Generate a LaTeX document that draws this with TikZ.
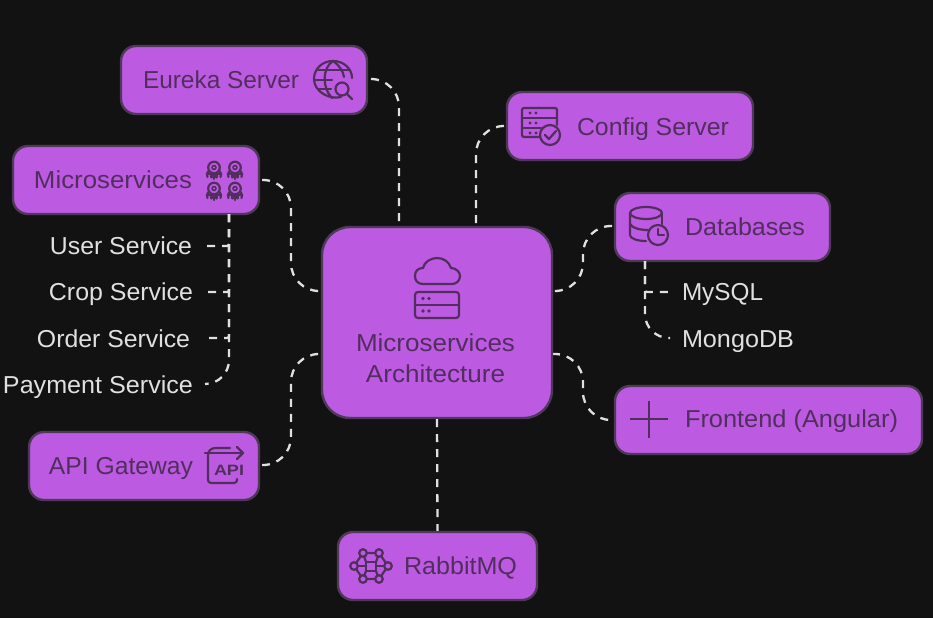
\documentclass[tikz,border=0pt]{standalone}
\usepackage{fontspec}
\usepackage{graphicx}
\setmainfont{Liberation Sans}
\definecolor{bg}{HTML}{121212}
\definecolor{boxfill}{HTML}{BC5AE2}
\definecolor{boxline}{HTML}{4E3A58}
\definecolor{ink}{HTML}{522E5E}
\definecolor{pale}{HTML}{E0E0E0}
\newcommand{\fitw}[2]{\resizebox{#1pt}{\height}{#2}}
\newcommand{\robot}[2]{%
  \draw[icon] (#1,#2-2.5) circle (5.8);
  \fill[ink] (#1,#2-2.5) circle (2.8);
  \fill[boxfill] (#1,#2-2.5) circle (1.2);
  \draw[icon] (#1-5.5,#2+1) .. controls (#1-7.5,#2+3) and (#1-7.5,#2+5) .. (#1-6.5,#2+7);
  \draw[icon] (#1+5.5,#2+1) .. controls (#1+7.5,#2+3) and (#1+7.5,#2+5) .. (#1+6.5,#2+7);
  \draw[icon] (#1-6,#2+4) -- (#1-2.5,#2+4) -- (#1-2.5,#2+7.5);
  \draw[icon] (#1+6,#2+4) -- (#1+2.5,#2+4) -- (#1+2.5,#2+7.5);
  \draw[icon] (#1,#2+4) -- (#1,#2+9);
}
\tikzset{
  x=1pt,y=-1pt,
  box/.style={draw=boxline,line width=2.4pt,fill=boxfill,rounded corners=15pt,inner sep=0pt,minimum height=68pt},
  hub/.style={box,rounded corners=28pt,minimum width=230pt,minimum height=191pt},
  inside/.style={text=ink,font=\fontsize{24.5}{28}\selectfont,anchor=base,inner sep=0pt},
  outside/.style={text=pale,font=\fontsize{24.5}{28}\selectfont,anchor=base,inner sep=0pt},
  link/.style={draw=pale,line width=2.3pt,dash pattern=on 8pt off 7pt,rounded corners=28pt},
  sublink/.style={link,rounded corners=2pt},
  icon/.style={draw=ink,line width=2.2pt,line cap=round,line join=round},
}
\begin{document}
\begin{tikzpicture}
\useasboundingbox (0,0) rectangle (933,618);
\fill[bg] (0,0) rectangle (933,618);

% connectors
\coordinate (euS) at (371,79);
\coordinate (cfS) at (504,126);
\coordinate (miS) at (262,180);
\coordinate (apS) at (262,465);
\coordinate (dbS) at (612,226);
\coordinate (frS) at (612,420);
\coordinate (hubT1) at (399,227);
\coordinate (hubT2) at (476,227);
\coordinate (hubL1) at (322,291);
\coordinate (hubL2) at (322,354);
\coordinate (hubR1) at (552,291);
\coordinate (hubR2) at (552,354);

\draw[link] (euS) -- (399,79) -- (hubT1);
\draw[link] (cfS) -- (476,126) -- (hubT2);
\draw[link] (miS) -- (291,180) -- (291,291) -- (hubL1);
\draw[link] (apS) -- (291,465) -- (291,354) -- (hubL2);
\draw[link] (dbS) -- (583,226) -- (583,291) -- (hubR1);
\draw[link] (hubR2) -- (583,354) -- (583,420) -- (frS);

\node[hub] (hub) at (437,322.5) {};
\node[box,minimum width=246pt] (eu) at (244,80) {};
\node[box,minimum width=246pt] (cf) at (630,126) {};
\node[box,minimum width=246pt] (mi) at (136,180) {};
\node[box,minimum width=215pt] (db) at (722.5,227) {};
\node[box,minimum width=307pt] (fr) at (768.5,420) {};
\node[box,minimum width=230pt] (ap) at (144,466) {};
\node[box,minimum width=199pt] (rb) at (437.5,566) {};

\draw[link] (hub.south) -- (rb.north);

\node[outside] (us) at (121,254.5) {\fitw{142}{User Service}};
\node[outside] (cs) at (121,300.5) {\fitw{144}{Crop Service}};
\node[outside] (os) at (113.5,347) {\fitw{153}{Order Service}};
\node[outside] (ps) at (98,393) {\fitw{190}{Payment Service}};
\node[outside] (my) at (722.5,300.5) {\fitw{81}{MySQL}};
\node[outside] (mg) at (738,347) {\fitw{112}{MongoDB}};

\coordinate (miB) at (229,214);
\coordinate (usE) at (206,246);
\coordinate (csE) at (206,292);
\coordinate (osE) at (206,338);
\coordinate (psE) at (205,384);
\draw[sublink] (miB) -- (229,246) -- (usE);
\draw[sublink] (miB) -- (229,292) -- (csE);
\draw[sublink] (miB) -- (229,338) -- (osE);
\draw[link,rounded corners=24pt] (miB) -- (229,384) -- (psE);
\coordinate (dbB) at (645,261);
\coordinate (myE) at (670,292);
\coordinate (mgE) at (670,338);
\draw[sublink] (dbB) -- (645,292) -- (myE);
\draw[link,rounded corners=24pt] (dbB) -- (645,338) -- (mgE);

% box labels
\node[inside] (euT) at (221,88) {\fitw{156}{Eureka Server}};
\node[inside] (cfT) at (653,135) {\fitw{152}{Config Server}};
\node[inside] (miT) at (113,188.5) {\fitw{158}{Microservices}};
\node[inside] (dbT) at (745,235) {\fitw{120}{Databases}};
\node[inside] (frT) at (791.5,427.5) {\fitw{213}{Frontend (Angular)}};
\node[inside] (apT) at (121,474) {\fitw{144}{API Gateway}};
\node[inside] (rbT) at (460.5,574) {\fitw{113}{RabbitMQ}};
\node[inside] (huA) at (435.5,351) {\fitw{159}{Microservices}};
\node[inside] (huB) at (435.5,382) {\fitw{139}{Architecture}};

% hub icon
\draw[icon] (423,284) .. controls (417,284) and (415,280) .. (415,276) .. controls (415,271) and (418,268) .. (423,268) .. controls (424,262) and (431,258) .. (437,258) .. controls (444,258) and (449,262) .. (451,268) .. controls (456,268) and (460,272) .. (460,276) .. controls (460,281) and (456,284) .. (452,284) -- cycle;
\draw[icon,rounded corners=3pt] (415,292) rectangle (459,318);
\draw[icon] (415,305) -- (459,305);
\foreach \px/\py in {423/298.5,429/298.5,423/311,429/311} \fill[ink] (\px,\py) circle (1.8);

% Eureka icon
\draw[icon] (341,97) .. controls (330,100) and (314,92) .. (314,79) .. controls (314,69) and (322,61) .. (333,61) .. controls (344,61) and (352,69) .. (352,78);
\draw[icon] (333,61) .. controls (322,68) and (322,88) .. (332,98);
\draw[icon] (333,61) .. controls (340,66) and (343,71) .. (344,77);
\draw[icon] (318,70) -- (349,70);
\draw[icon] (314,80) -- (332,80);
\draw[icon] (318,89) -- (331,89);
\draw[icon] (342,89) circle (6.5);
\draw[icon] (347,94) -- (352,99);

% Microservices icon
\robot{214}{170}
\robot{235}{170}
\robot{214}{191}
\robot{235}{191}

% Config icon
\draw[icon,rounded corners=2pt] (557,125) -- (557,108) -- (522,108) -- (522,137) -- (540,137);
\draw[icon] (522,118) -- (557,118);
\draw[icon] (522,128) -- (541,128);
\foreach \px/\py in {530/113,536/113,530/123,536/123,530/133,536/133} \fill[ink] (\px,\py) circle (1.6);
\draw[icon] (550,135) circle (10);
\draw[icon] (545,135) -- (549,139) -- (556,131);

% Databases icon
\draw[icon] (646,213) ellipse (16 and 6);
\draw[icon] (630,213) -- (630,235) .. controls (630,238) and (636,241) .. (646,241);
\draw[icon] (662,213) -- (662,224);
\draw[icon] (630,224) .. controls (632,228) and (640,230) .. (648,230);
\draw[icon] (658,235) circle (10);
\draw[icon] (658,229) -- (658,235) -- (664,235);

% Frontend icon
\draw[icon,line cap=butt] (630,419) -- (668,419);
\draw[icon,line cap=butt] (649,401) -- (649,438);

% API icon
\draw[icon,rounded corners=3pt] (230,448) -- (212,448) -- (208,452) -- (208,483) -- (237,483) -- (237,479);
\draw[icon] (205,453) -- (243,453);
\draw[icon] (237,447) -- (243,453) -- (237,459);
\node[text=ink,font=\bfseries\fontsize{15}{15}\selectfont,anchor=base,inner sep=0pt] (apI) at (229,475.5) {\fitw{30}{API}};

% RabbitMQ icon
\draw[icon] (363,553) -- (379,553) -- (388,566) -- (379,579) -- (363,579) -- (354,566) -- cycle;
\draw[icon] (366,562) rectangle (376,571);
\draw[icon] (354,566) -- (366,566);
\draw[icon] (376,566) -- (388,566);
\draw[icon] (363,553) -- (366,562);
\draw[icon] (379,553) -- (376,562);
\draw[icon] (363,579) -- (366,571);
\draw[icon] (379,579) -- (376,571);
\foreach \px/\py in {363/553,379/553,354/566,388/566,363/579,379/579} \filldraw[icon,fill=boxfill] (\px,\py) circle (3.8);
\end{tikzpicture}
\end{document}
